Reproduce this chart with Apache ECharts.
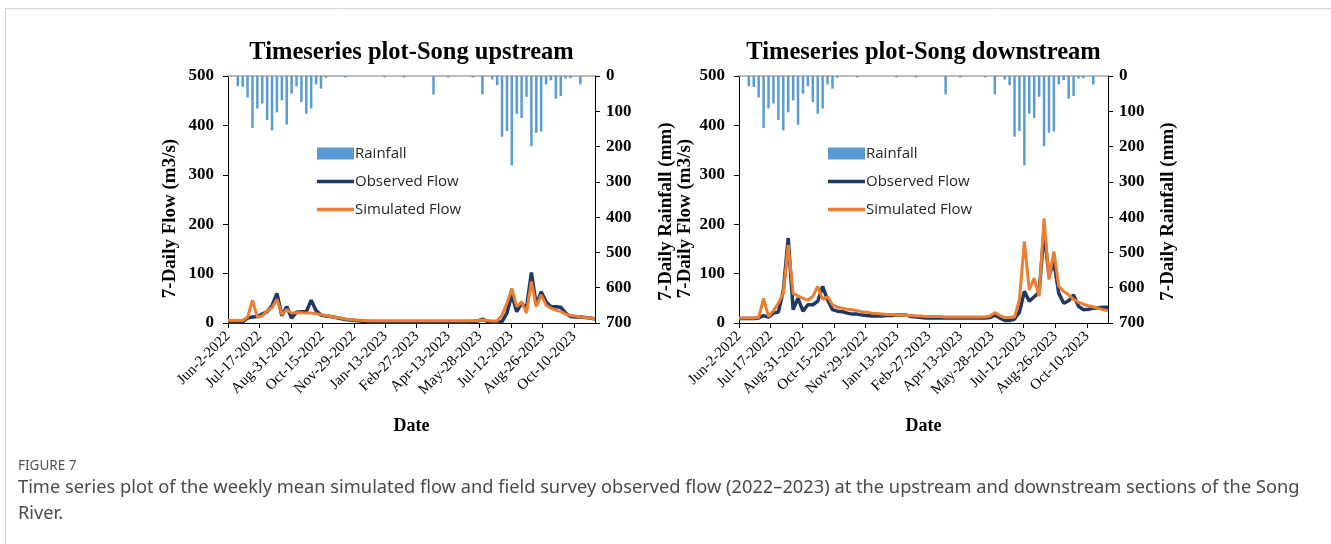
<!DOCTYPE html>
<html>
<head>
<meta charset="utf-8">
<script src="https://cdn.jsdelivr.net/npm/echarts@6/dist/echarts.min.js"></script>
<style>
html,body{margin:0;padding:0;background:#fff;}
#chart{width:1331px;height:544px;}
</style>
</head>
<body>
<div id="chart"></div>
<script>
// ---- Data (weekly, starting Jun-2-2022, one value per week) ----
const tickLabels = ['Jun-2-2022','Jul-17-2022','Aug-31-2022','Oct-15-2022','Nov-29-2022','Jan-13-2023','Feb-27-2023','Apr-13-2023','May-28-2023','Jul-12-2023','Aug-26-2023','Oct-10-2023'];

const rainfall = [0,0,29,31,61,147,92,78,125,154,103,69,138,50,29,74,107,92,24,36,
  5,0,0,0,4,0,0,0,0,0,0,0,4,0,0,0,4,0,0,0,
  0,0,52,0,0,4,0,0,0,0,4,0,52,0,10,26,172,156,253,107,
  119,59,199,161,157,24,12,64,57,7,6,0,24,0,0,0];

const observedUp = [2,2,2,3,10,12,13,18,23,35,60,15,33,10,22,23,23,46,25,16,
  14,13,11,9,7,6,5,4,3,2,2,2,2,2,2,2,2,2,2,2,
  2,2,2,2,2,2,2,2,2,2,3,4,8,3,2,2,3,20,57,23,
  40,30,102,36,63,43,33,33,32,20,13,12,12,11,10,8];

const simulatedUp = [5,5,5,5,12,46,12,14,25,31,48,17,27,20,21,21,20,20,19,17,
  15,13,11,10,8,7,6,5.5,5,4.5,4.5,4.5,4.5,4.5,4.5,4.5,4.5,4.5,4.5,4.5,
  4.5,4.5,4.5,4.5,4.5,4.5,4.5,4.5,4.5,4.5,4.5,5,6,5,4,4,16,40,70,33,
  43,20,84,33,57,36,30,26,23,18,15,14,12,11,10,8];

const observedDown = [9,9,9,9,10,15,12,20,22,65,172,27,50,24,37,37,44,74,47,27,
  24,23,20,18,18,16,15,14,14,14,15,15,16,16,16,13,12,11,10,10,
  10,10,10,10,10,10,10,10,10,10,10,11,16,10,5,5,8,22,64,44,
  53,62,185,95,124,60,40,45,57,34,27,28,30,31,32,32];

const simulatedDown = [10,10,10,10,11,50,13,25,40,60,158,60,55,50,46,54,74,48,53,37,
  32,30,28,27,25,23,22,20,19,18,17,17,16,16,15,15,14,14,13,13,
  13,13,12,12,12,12,12,12,12,12,12,14,21,15,11,11,12,47,165,67,
  91,54,212,88,145,74,64,57,48,42,38,35,33,30,27,25];

const titles = ['Timeseries plot-Song upstream','Timeseries plot-Song downstream'];
const seriesNames = ['Rainfall','Observed Flow','Simulated Flow'];

// ---- Chart ----
const DAYS_PER_WEEK = 7;
const TICK_STEP = 45;
const X_MAX = (rainfall.length - 1) * DAYS_PER_WEEK;
const tickValues = tickLabels.map((_, i) => i * TICK_STEP);
const pair = arr => arr.map((v, i) => [i * DAYS_PER_WEEK, v]);

const SERIF = '"Liberation Serif", "Times New Roman", serif';
const SANS = '"Open Sans", "Noto Sans", sans-serif';
const grids = [
  {left: 228, top: 76, width: 367, height: 247},
  {left: 739, top: 76, width: 369, height: 247}
];
const leftNameGap = [48, 44];
const rightNameGap = [62, 51];
const flows = [[observedUp, simulatedUp],[observedDown, simulatedDown]];
const LINE_ICON = 'path://M0,0L37,0L37,3.5L0,3.5Z';

const xAxis = [], yAxis = [], series = [], legend = [], graphic = [];
grids.forEach((g, k) => {
  xAxis.push({
    gridIndex: k, type: 'value', min: 0, max: X_MAX, position: 'bottom',
    axisLine: {show: true, onZero: false, lineStyle: {color: '#000', width: 1}},
    axisTick: {show: true, customValues: tickValues, length: 5, lineStyle: {color: '#000'}},
    axisLabel: {customValues: tickValues, rotate: 45, margin: 11,
      formatter: v => tickLabels[Math.round(v / TICK_STEP)] || '',
      fontFamily: SERIF, fontSize: 15, color: '#000'},
    splitLine: {show: false}, minorTick: {show: false}, minorSplitLine: {show: false},
    name: 'Date', nameLocation: 'middle', nameGap: 94,
    nameTextStyle: {fontFamily: SERIF, fontWeight: 'bold', fontSize: 18, color: '#000'}
  });
  xAxis.push({
    gridIndex: k, type: 'value', min: 0, max: X_MAX, position: 'top',
    axisLine: {show: true, onZero: false, lineStyle: {color: '#A6A6A6', width: 1.5}},
    axisTick: {show: false}, axisLabel: {show: false}, splitLine: {show: false}
  });
  yAxis.push({
    gridIndex: k, type: 'value', min: 0, max: 500, interval: 100, position: 'left',
    axisLine: {show: true, onZero: false, lineStyle: {color: '#000', width: 1}},
    axisTick: {show: true, length: 5, lineStyle: {color: '#000'}},
    axisLabel: {fontFamily: SERIF, fontWeight: 'bold', fontSize: 17, color: '#000', margin: 14},
    splitLine: {show: false},
    name: '7-Daily Flow (m3/s)', nameLocation: 'middle', nameRotate: 90, nameGap: leftNameGap[k],
    nameTextStyle: {fontFamily: SERIF, fontWeight: 'bold', fontSize: 19, color: '#000', padding: [0, 38, 0, 0]}
  });
  yAxis.push({
    gridIndex: k, type: 'value', min: 0, max: 700, interval: 100, position: 'right', inverse: true,
    axisLine: {show: true, onZero: false, lineStyle: {color: '#000', width: 1}},
    axisTick: {show: true, length: 5, lineStyle: {color: '#000'}},
    axisLabel: {fontFamily: SERIF, fontWeight: 'bold', fontSize: 17, color: '#000', margin: 11},
    splitLine: {show: false},
    name: '7-Daily Rainfall (mm)', nameLocation: 'middle', nameRotate: 90, nameGap: rightNameGap[k],
    nameTextStyle: {fontFamily: SERIF, fontWeight: 'bold', fontSize: 19, color: '#000', padding: [0, 24, 0, 0]}
  });
  series.push({
    name: seriesNames[0], type: 'bar', xAxisIndex: 2 * k, yAxisIndex: 2 * k + 1,
    data: pair(rainfall), barWidth: 2.5, itemStyle: {color: '#5B9BD5'}, z: 2
  });
  series.push({
    name: seriesNames[1], type: 'line', xAxisIndex: 2 * k, yAxisIndex: 2 * k,
    data: pair(flows[k][0]), symbol: 'none', showSymbol: false,
    lineStyle: {color: '#1F3864', width: 3.5}, itemStyle: {color: '#1F3864'}, z: 3
  });
  series.push({
    name: seriesNames[2], type: 'line', xAxisIndex: 2 * k, yAxisIndex: 2 * k,
    data: pair(flows[k][1]), symbol: 'none', showSymbol: false,
    lineStyle: {color: '#ED7D31', width: 3}, itemStyle: {color: '#ED7D31'}, z: 4
  });
  legend.push({
    left: g.left + 89, top: 146, orient: 'vertical', padding: 0,
    itemWidth: 37, itemHeight: 12, itemGap: 13, symbolKeepAspect: true,
    data: [
      {name: seriesNames[0], icon: 'rect'},
      {name: seriesNames[1], icon: LINE_ICON},
      {name: seriesNames[2], icon: LINE_ICON}
    ],
    textStyle: {fontFamily: SANS, fontSize: 15, color: '#262626', padding: [0, 0, 0, -4]}
  });
  graphic.push({
    type: 'text', x: g.left + g.width / 2, y: 53,
    style: {text: titles[k], textAlign: 'center', textVerticalAlign: 'middle',
      font: 'bold 24.5px ' + SERIF, fill: '#000'}
  });
});

graphic.push({type: 'line', shape: {x1: 5, y1: 8.5, x2: 1331, y2: 8.5}, style: {stroke: '#d4d4d4', lineWidth: 1}});
graphic.push({type: 'line', shape: {x1: 5.5, y1: 8, x2: 5.5, y2: 544}, style: {stroke: '#d4d4d4', lineWidth: 1}});
graphic.push({type: 'text', x: 18, y: 466, style: {text: 'FIGURE 7', textVerticalAlign: 'middle', font: '13.5px "Noto Sans", sans-serif', fill: '#555'}});
graphic.push({type: 'text', x: 18, y: 488, style: {text: 'Time series plot of the weekly mean simulated flow and field survey observed flow (2022–2023) at the upstream and downstream sections of the Song', textVerticalAlign: 'middle', font: '18.25px "Noto Sans", sans-serif', fill: '#4a4a4a'}});
graphic.push({type: 'text', x: 18, y: 514, style: {text: 'River.', textVerticalAlign: 'middle', font: '18.25px "Noto Sans", sans-serif', fill: '#4a4a4a'}});

const chart = echarts.init(document.getElementById('chart'), null, {renderer: 'canvas'});
chart.setOption({
  animation: false,
  backgroundColor: '#fff',
  grid: grids,
  xAxis, yAxis, series, legend, graphic
});
</script>
</body>
</html>
